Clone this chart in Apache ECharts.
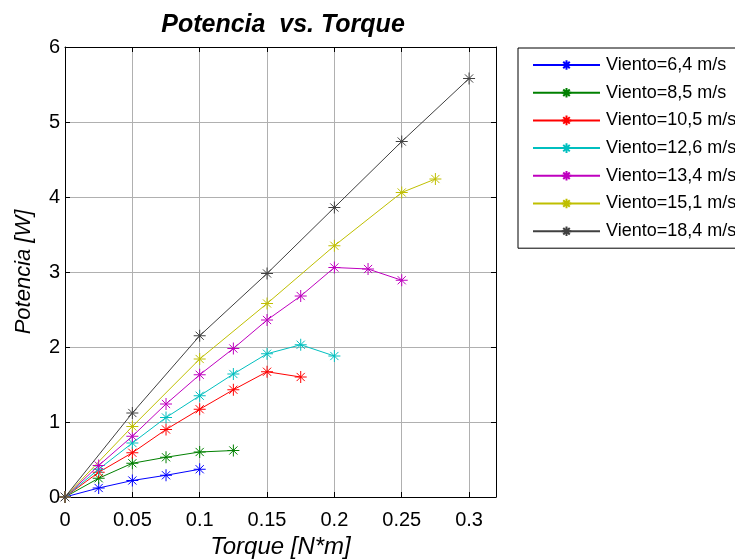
<!DOCTYPE html>
<html>
<head>
<meta charset="utf-8">
<script src="https://cdn.jsdelivr.net/npm/echarts@6/dist/echarts.min.js"></script>
<style>
html,body{margin:0;padding:0;background:#fff;}
#chart{width:735px;height:559px;}
</style>
</head>
<body>
<div id="chart"></div>
<script>
// datos (Torque [N*m], Potencia [W])
var nombres = ['Viento=6,4 m/s','Viento=8,5 m/s','Viento=10,5 m/s','Viento=12,6 m/s','Viento=13,4 m/s','Viento=15,1 m/s','Viento=18,4 m/s'];
var colores = ['#0000ff','#008000','#ff0000','#00bfbf','#bf00bf','#bfbf00','#404040'];

var torque64 = [0, 0.025, 0.05, 0.075, 0.1];
var pot64    = [0, 0.12, 0.22, 0.29, 0.37];
var torque85 = [0, 0.025, 0.05, 0.075, 0.1, 0.125];
var pot85    = [0, 0.25, 0.45, 0.53, 0.60, 0.62];
var torque105 = [0, 0.025, 0.05, 0.075, 0.1, 0.125, 0.15, 0.175];
var pot105    = [0, 0.33, 0.59, 0.90, 1.17, 1.43, 1.67, 1.60];
var torque126 = [0, 0.025, 0.05, 0.075, 0.1, 0.125, 0.15, 0.175, 0.2];
var pot126    = [0, 0.37, 0.72, 1.06, 1.35, 1.64, 1.91, 2.03, 1.88];
var torque134 = [0, 0.025, 0.05, 0.075, 0.1, 0.125, 0.15, 0.175, 0.2, 0.225, 0.25];
var pot134    = [0, 0.42, 0.81, 1.24, 1.63, 1.98, 2.36, 2.68, 3.06, 3.04, 2.89];
var torque151 = [0, 0.05, 0.1, 0.15, 0.2, 0.25, 0.275];
var pot151    = [0, 0.94, 1.84, 2.58, 3.35, 4.06, 4.24];
var torque184 = [0, 0.05, 0.1, 0.15, 0.2, 0.25, 0.3];
var pot184    = [0, 1.12, 2.15, 2.98, 3.86, 4.74, 5.58];

var xs = [torque64, torque85, torque105, torque126, torque134, torque151, torque184];
var ys = [pot64, pot85, pot105, pot126, pot134, pot151, pot184];

var asterisco = 'path://M5,0L5,10M0,5L10,5M1.6,1.6L8.4,8.4M8.4,1.6L1.6,8.4';
var fuente = 'Liberation Sans';

function pares(x, y){
	var d = [];
	for (var i = 0; i < x.length; i++) d.push([x[i], y[i]]);
	return d;
}

var series = [];
for (var k = 0; k < nombres.length; k++) {
	series.push({
		name : nombres[k],
		type : 'line',
		data : pares(xs[k], ys[k]),
		symbol : asterisco,
		symbolSize : 12,
		lineStyle : { color : colores[k], width : 1 },
		itemStyle : { color : colores[k], borderColor : colores[k], borderWidth : 1 },
		emphasis : { disabled : true },
		animation : false
	});
}

var gris = {
	show : true,
	lineStyle : { color : '#b0b0b0', width : 1, type : 'solid' }
};
var ejeNegro = { show : true, onZero : false, lineStyle : { color : '#000', width : 1 } };
var marca = { show : true, inside : true, length : 5, lineStyle : { color : '#000' } };

var chart = echarts.init(document.getElementById('chart'));
chart.setOption({
	backgroundColor : '#fff',
	animation : false,
	color : colores,
	title : {
		text : 'Potencia  vs. Torque',
		left : 278,
		top : 8,
		textAlign : 'center',
		textStyle : {
			fontFamily : fuente,
			fontSize : 25,
			fontWeight : 'bold',
			fontStyle : 'italic',
			color : '#000'
		}
	},
	legend : {
		orient : 'vertical',
		left : 518,
		top : 48,
		padding : [8, 4, 8, 14],
		itemWidth : 67,
		itemHeight : 12,
		itemGap : 9.7,
		borderColor : '#000',
		borderWidth : 1,
		data : nombres,
		textStyle : {
			fontFamily : fuente,
			fontSize : 18,
			color : '#000',
			padding : [0, 0, 0, 1]
		}
	},
	grid : {
		left : 65,
		right : 239,
		top : 47,
		bottom : 62,
		containLabel : false,
		outerBoundsMode : 'none'
	},
	xAxis : [ {
		type : 'value',
		min : 0,
		max : 0.32,
		interval : 0.05,
		name : 'Torque [N*m]',
		nameLocation : 'middle',
		nameGap : 37,
		nameTextStyle : { fontFamily : fuente, fontSize : 24, fontStyle : 'italic', color : '#000' },
		axisLine : ejeNegro,
		axisTick : marca,
		splitLine : gris,
		axisLabel : {
			showMaxLabel : false,
			margin : 13,
			fontFamily : fuente,
			fontSize : 20,
			color : '#000'
		}
	}, {
		type : 'value',
		position : 'top',
		min : 0,
		max : 0.32,
		interval : 0.05,
		axisLine : ejeNegro,
		axisTick : marca,
		splitLine : { show : false },
		axisLabel : { show : false }
	} ],
	yAxis : [ {
		type : 'value',
		min : 0,
		max : 6,
		interval : 1,
		name : 'Potencia [W]',
		nameLocation : 'middle',
		nameGap : 30,
		nameTextStyle : { fontFamily : fuente, fontSize : 22, fontStyle : 'italic', color : '#000' },
		axisLine : ejeNegro,
		axisTick : marca,
		splitLine : gris,
		axisLabel : {
			margin : 5,
			fontFamily : fuente,
			fontSize : 20,
			color : '#000'
		}
	}, {
		type : 'value',
		position : 'right',
		min : 0,
		max : 6,
		interval : 1,
		axisLine : ejeNegro,
		axisTick : marca,
		splitLine : { show : false },
		axisLabel : { show : false }
	} ],
	series : series
});
</script>
</body>
</html>
